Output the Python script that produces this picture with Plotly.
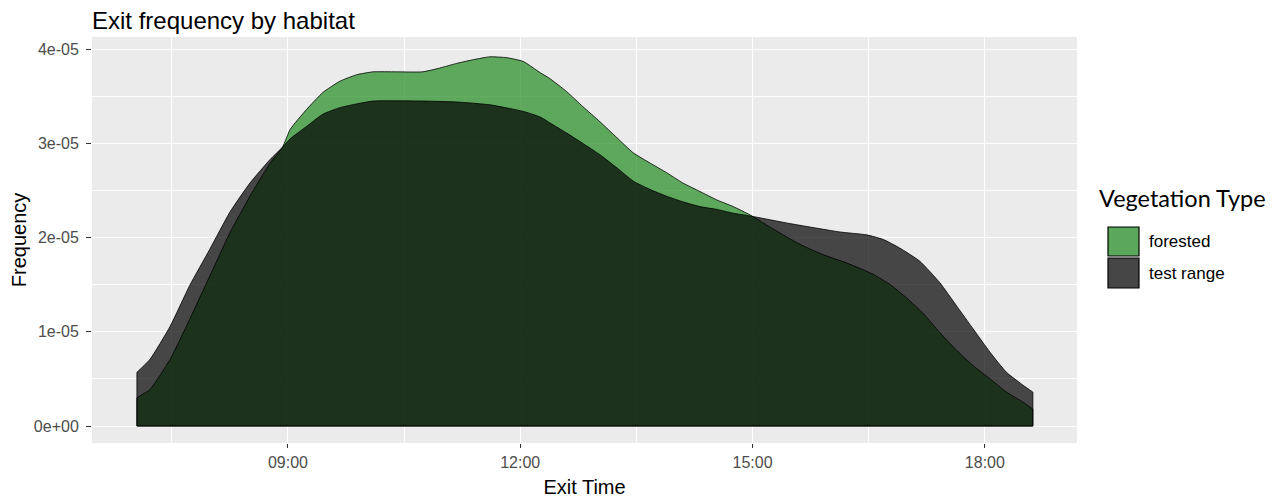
import numpy as np
import plotly.graph_objects as go

# ---- data (exit time in decimal hours, frequency in units of 1e-05) ----
forested_hours = [7.05, 7.22, 7.48, 7.73, 7.99, 8.25, 8.51, 8.77, 8.93, 9.03, 9.24, 9.45, 9.67,
                  9.89, 10.10, 10.40, 10.74, 10.96, 11.18, 11.40, 11.61, 11.83, 12.04, 12.26,
                  12.38, 12.60, 12.81, 13.03, 13.25, 13.46, 13.68, 13.89, 14.10, 14.32, 14.54,
                  14.75, 14.97, 15.27, 15.61, 15.91, 16.22, 16.56, 16.78, 16.99, 17.21, 17.42,
                  17.64, 17.85, 18.07, 18.28, 18.50, 18.62]
forested_freq = [0.30, 0.39, 0.71, 1.13, 1.59, 2.05, 2.44, 2.79, 2.96, 3.15, 3.36, 3.54, 3.66,
                 3.73, 3.76, 3.76, 3.76, 3.80, 3.85, 3.89, 3.92, 3.91, 3.87, 3.75,
                 3.69, 3.55, 3.39, 3.23, 3.06, 2.90, 2.79, 2.69, 2.58, 2.49, 2.40,
                 2.33, 2.24, 2.09, 1.93, 1.82, 1.73, 1.61, 1.50, 1.36, 1.19, 0.99,
                 0.80, 0.64, 0.50, 0.36, 0.25, 0.18]

test_hours = [7.05, 7.22, 7.48, 7.73, 7.99, 8.25, 8.51, 8.77, 8.93, 9.03, 9.24, 9.45, 9.67,
              9.89, 10.10, 10.74, 11.18, 11.61, 12.04, 12.26, 12.38, 12.60, 12.81, 13.03,
              13.25, 13.46, 13.68, 13.89, 14.10, 14.32, 14.54, 14.75, 14.97, 15.48, 16.13,
              16.47, 16.69, 16.90, 17.16, 17.42, 17.64, 17.85, 18.07, 18.28, 18.50, 18.62]
test_freq = [0.57, 0.71, 1.06, 1.49, 1.875, 2.27, 2.58, 2.83, 2.96, 3.05, 3.18, 3.31, 3.38,
             3.42, 3.45, 3.45, 3.44, 3.41, 3.34, 3.28, 3.22, 3.11, 3.00, 2.88,
             2.74, 2.60, 2.51, 2.44, 2.38, 2.33, 2.30, 2.26, 2.23, 2.15, 2.06,
             2.03, 1.98, 1.89, 1.75, 1.52, 1.27, 1.03, 0.78, 0.57, 0.43, 0.36]

series_names = ["forested", "test range"]
x_tick_vals = [9, 12, 15, 18]
x_tick_text = ["09:00", "12:00", "15:00", "18:00"]
y_tick_vals = [0, 1e-05, 2e-05, 3e-05, 4e-05]
y_tick_text = ["0e+00", "1e-05", "2e-05", "3e-05", "4e-05"]

SCALE = 1e-05
fills = ["rgba(34,139,34,0.7)", "rgba(0,0,0,0.7)"]
key_colors = ["#5BA75B", "#464646"]
OUTLINE = dict(color="black", width=0.8)

fig = go.Figure()
for name, hrs, fr, fc in [(series_names[0], forested_hours, forested_freq, fills[0]),
                          (series_names[1], test_hours, test_freq, fills[1])]:
    y = list(np.array(fr) * SCALE)
    # density area (smooth top curve)
    fig.add_trace(go.Scatter(x=hrs, y=y, mode="lines", fill="tozeroy", fillcolor=fc,
                             line=dict(OUTLINE, shape="spline", smoothing=0.5),
                             name=name, showlegend=False, hoverinfo="skip"))
    # outline of the sides and the base of the area
    fig.add_trace(go.Scatter(x=[hrs[0], hrs[0], hrs[-1], hrs[-1]], y=[y[0], 0.0, 0.0, y[-1]],
                             mode="lines", line=OUTLINE, showlegend=False, hoverinfo="skip"))

# page has an 8px body margin: lay out in reference pixels, shifted by OFF
OFF = 8
W, H = 1287 - OFF, 501 - OFF
L, R, T, B = 92 - OFF, 1077 - OFF, 37 - OFF, 443 - OFF
def px(xp):
    return (xp - OFF - L) / (R - L)
def py(yp):
    return (B - (yp - OFF)) / (B - T)

shapes = []
annotations = []
# custom legend (ggplot-style square keys)
keys_y = [(227, 256), (258, 288)]
for i, (y0, y1) in enumerate(keys_y):
    shapes.append(dict(type="rect", xref="paper", yref="paper",
                       x0=px(1108), x1=px(1139), y0=py(y1), y1=py(y0),
                       fillcolor=key_colors[i], line=dict(color="black", width=1.2)))
    annotations.append(dict(xref="paper", yref="paper", x=px(1147), y=py((y0 + y1) / 2),
                            xanchor="left", yanchor="middle", showarrow=False,
                            text=series_names[i],
                            font=dict(family="Liberation Sans, Arial", size=17, color="black")))
annotations.append(dict(xref="paper", yref="paper", x=px(1097), y=py(198),
                        xanchor="left", yanchor="middle", showarrow=False,
                        text="Vegetation Type",
                        font=dict(family="Lato", size=23.5, color="black")))

fig.update_layout(
    width=W, height=H,
    margin=dict(l=L, r=W - R, t=T, b=H - B, pad=0),
    paper_bgcolor="white", plot_bgcolor="#EBEBEB",
    title=dict(text="Exit frequency by habitat", xref="paper", x=0, xanchor="left",
               yref="container", y=1 - 13 / H, yanchor="middle",
               font=dict(family="Liberation Sans, Arial", size=24, color="black")),
    shapes=shapes, annotations=annotations,
    showlegend=False,
)
fig.update_xaxes(
    automargin=False,
    range=[6.47, 19.19], tickmode="array", tickvals=x_tick_vals, ticktext=x_tick_text,
    ticks="outside", ticklen=4, tickwidth=1, tickcolor="#333333", ticklabelstandoff=1,
    tickfont=dict(family="Liberation Sans, Arial", size=16, color="#4D4D4D"),
    showgrid=True, gridcolor="white", gridwidth=1.3, zeroline=False, showline=False,
    minor=dict(tickmode="array", tickvals=[7.5, 10.5, 13.5, 16.5], showgrid=True,
               gridcolor="white", gridwidth=0.6, ticks=""),
    title=dict(text="Exit Time", standoff=9,
               font=dict(family="Liberation Sans, Arial", size=20, color="black")),
)
fig.update_yaxes(
    automargin=False,
    range=[-0.18e-05, 4.13e-05], tickmode="array", tickvals=y_tick_vals, ticktext=y_tick_text,
    ticks="outside", ticklen=5, tickwidth=1, tickcolor="#333333", ticklabelstandoff=4,
    tickfont=dict(family="Liberation Sans, Arial", size=16, color="#4D4D4D"),
    showgrid=True, gridcolor="white", gridwidth=1.3, zeroline=False, showline=False,
    minor=dict(tickmode="array", tickvals=[0.5e-05, 1.5e-05, 2.5e-05, 3.5e-05], showgrid=True,
               gridcolor="white", gridwidth=0.6, ticks=""),
    title=dict(text="Frequency", standoff=2,
               font=dict(family="Liberation Sans, Arial", size=20, color="black")),
)

fig.write_html("out.html")
